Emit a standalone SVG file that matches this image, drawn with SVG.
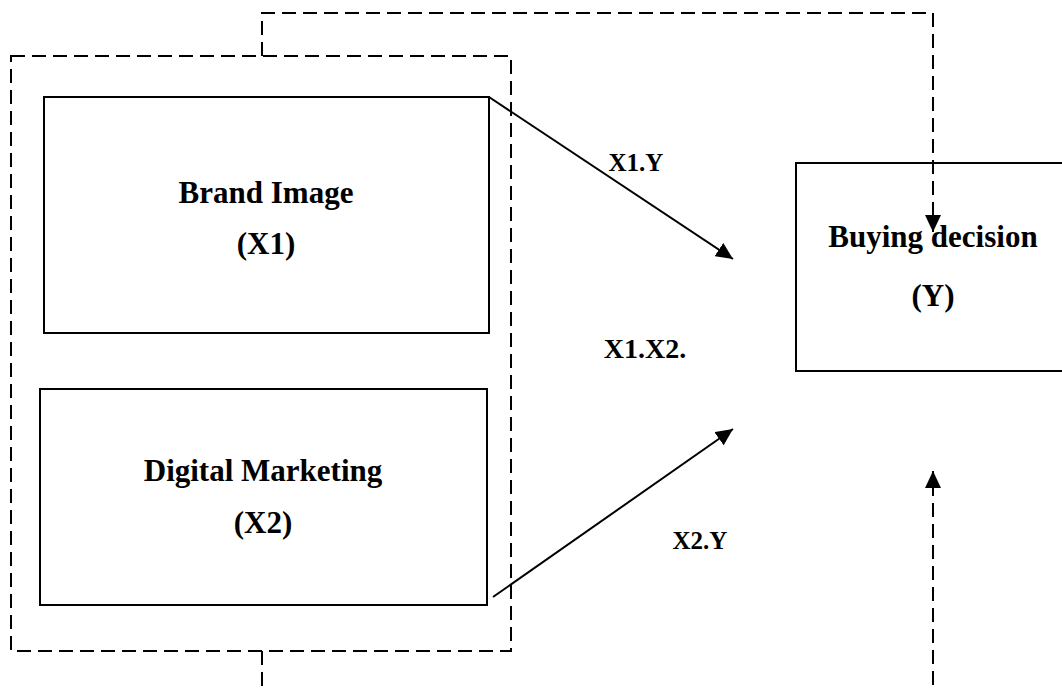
<svg xmlns="http://www.w3.org/2000/svg" width="1062" height="693" viewBox="0 0 1062 693">
<style>
.box{fill:none;stroke:#000;stroke-width:2}
.dash{fill:none;stroke:#000;stroke-width:2;stroke-dasharray:14 7}
.solid{fill:none;stroke:#000;stroke-width:2}
.lbl{font-family:"Liberation Serif","Times New Roman",serif;font-weight:bold;font-size:31px;text-anchor:middle;fill:#000}
.sm{font-family:"Liberation Serif","Times New Roman",serif;font-weight:bold;font-size:25px;text-anchor:middle;fill:#000}
</style>
<defs>
<marker id="ah" markerWidth="17" markerHeight="16" refX="17" refY="8" orient="auto" markerUnits="userSpaceOnUse" viewBox="0 0 17 16">
<path d="M0,0 L17,8 L0,16 z" fill="#000"/>
</marker>
</defs>
<rect width="1062" height="693" fill="#fff"/>
<g id="group-outline">
<rect class="dash" x="11" y="56" width="500" height="595"/>
</g>
<g id="brand-image">
<rect class="box" x="44" y="97" width="445" height="236"/>
<text class="lbl" x="266" y="203">Brand Image</text>
<text class="lbl" x="266" y="254">(X1)</text>
</g>
<g id="digital-marketing">
<rect class="box" x="40" y="389" width="447" height="216"/>
<text class="lbl" x="263" y="481">Digital Marketing</text>
<text class="lbl" x="263" y="533">(X2)</text>
</g>
<g id="buying-decision">
<rect class="box" x="796" y="163" width="280" height="208"/>
<text class="lbl" x="933" y="247">Buying decision</text>
<text class="lbl" x="933" y="306">(Y)</text>
</g>
<g id="connectors">
<line class="solid" x1="489" y1="97" x2="733" y2="259" marker-end="url(#ah)"/>
<line class="solid" x1="493" y1="597" x2="733" y2="429" marker-end="url(#ah)"/>
<polyline class="dash" points="262,56 262,13 933,13 933,232" marker-end="url(#ah)"/>
<line class="dash" x1="262" y1="651" x2="262" y2="686"/>
<line class="dash" x1="933" y1="685" x2="933" y2="471" marker-end="url(#ah)"/>
</g>
<g id="labels">
<text class="sm" x="636" y="171">X1.Y</text>
<text class="sm" x="700" y="549">X2.Y</text>
<text class="lbl" x="645" y="358" style="font-size:28px">X1.X2.</text>
</g>
</svg>
